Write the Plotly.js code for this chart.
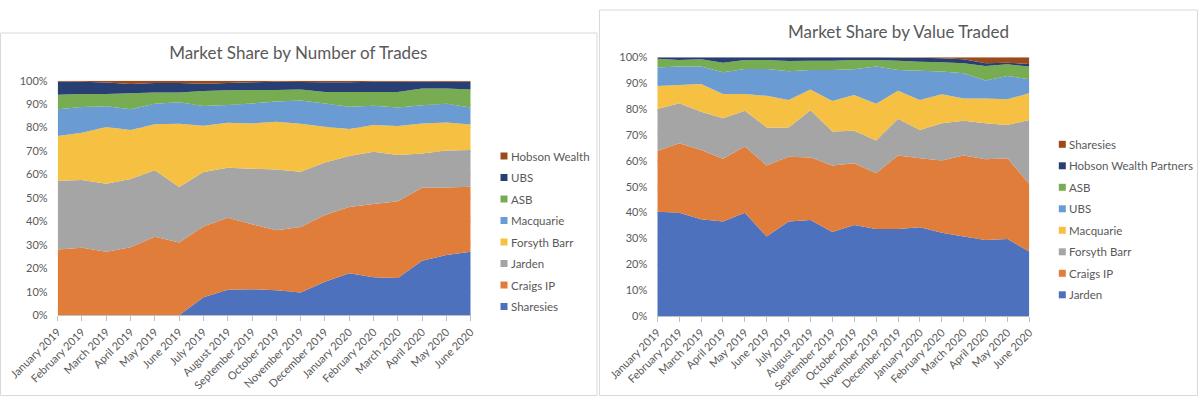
<!DOCTYPE html>
<html><head><meta charset="utf-8">
<script src="https://cdn.plot.ly/plotly-3.0.1.min.js"></script>
<style>html,body{margin:0;padding:0;background:#fff}#chart{width:1200px;height:397px}</style>
</head><body><div id="chart"></div><script>
// ---------- data ----------
const months = ["January 2019","February 2019","March 2019","April 2019","May 2019","June 2019","July 2019","August 2019","September 2019","October 2019","November 2019","December 2019","January 2020","February 2020","March 2020","April 2020","May 2020","June 2020"];

// Chart 1: Market Share by Number of Trades (bottom to top)
const tradesTitle = "Market Share by Number of Trades";
const tradesNames = ["Sharesies","Craigs IP","Jarden","Forsyth Barr","Macquarie","ASB","UBS","Hobson Wealth"];
const tradesSharesies = [0,0,0,0,0,0,7.7,10.9,11.1,10.7,9.7,14.3,17.9,16.2,15.9,23.3,25.7,27.1];
const tradesCraigs    = [28.1,28.8,27.1,29.0,33.5,31.0,30.1,30.7,27.7,25.5,27.9,28.5,28.3,31.2,32.7,31.1,28.8,27.7];
const tradesJarden    = [29.3,28.9,29.0,29.1,28.3,23.7,23.3,21.3,23.7,25.9,23.6,22.3,21.7,22.3,19.7,14.6,15.7,15.7];
const tradesForsyth   = [19.0,20.1,24.2,20.9,19.6,27.0,19.7,19.2,19.3,20.4,20.4,15.3,11.5,11.4,12.4,12.8,12.0,10.8];
const tradesMacquarie = [11.4,11.0,8.8,8.8,8.8,9.1,8.4,7.5,8.5,8.6,10.0,9.9,9.5,8.2,7.9,7.7,8.0,7.3];
const tradesASB       = [6.2,5.5,5.2,6.8,4.8,4.2,6.4,6.3,5.7,4.9,4.6,4.9,6.3,5.9,6.6,7.2,6.5,7.7];
const tradesUBS       = [5.7,5.3,4.9,4.0,4.0,4.0,3.1,3.1,3.3,3.5,3.2,4.1,4.1,4.3,4.3,3.0,2.9,3.4];
const tradesHobson    = [0.3,0.4,0.8,1.4,1.0,1.0,1.3,1.0,0.7,0.5,0.6,0.7,0.7,0.5,0.5,0.3,0.4,0.3];

// Chart 2: Market Share by Value Traded (bottom to top)
const valueTitle = "Market Share by Value Traded";
const valueNames = ["Jarden","Craigs IP","Forsyth Barr","Macquarie","UBS","ASB","Hobson Wealth Partners","Sharesies"];
const valueJarden    = [40.3,39.9,37.4,36.5,39.9,30.7,36.5,37.1,32.5,35.2,33.6,33.6,34.3,32.2,30.7,29.4,29.8,24.9];
const valueCraigs    = [23.5,26.9,26.8,24.3,25.6,27.5,25.1,24.2,25.7,23.8,21.6,28.4,26.7,27.9,31.3,31.2,31.2,26.1];
const valueForsyth   = [16.2,15.4,14.8,15.6,13.8,14.7,11.3,18.2,13.1,12.6,12.6,14.2,10.9,14.4,13.5,13.9,12.8,24.8];
const valueMacquarie = [8.9,7.1,10.7,9.4,6.5,12.2,10.6,8.1,11.8,13.8,14.2,10.9,11.6,11.2,8.6,9.6,10.0,10.3];
const valueUBS       = [7.2,7.1,6.7,8.4,9.7,10.4,11.1,7.5,12.0,10.0,14.4,8.0,11.3,8.8,9.7,6.9,9.0,5.4];
const valueASB       = [3.3,2.6,2.8,3.7,3.5,3.5,4.0,3.6,3.6,3.6,2.6,3.6,3.5,3.6,3.9,5.6,4.5,4.9];
const valueHobson    = [0.6,1.0,0.8,2.1,1.0,1.0,1.4,1.3,1.3,1.0,1.0,1.2,1.5,1.5,1.5,1.1,0.6,1.0];
const valueSharesies = [0,0,0,0,0,0,0,0,0,0,0,0.1,0.2,0.4,0.8,2.3,2.1,2.6];

const yTicks = [0,10,20,30,40,50,60,70,80,90,100];

// ---------- styles ----------
const C = {blue:"#4E71BE", orange:"#E07D3A", gray:"#A5A5A5", yellow:"#F6C142", lblue:"#6A9BD3", green:"#78AC53", navy:"#283F73", brown:"#9C4A1A"};
const tradesColors = [C.blue,C.orange,C.gray,C.yellow,C.lblue,C.green,C.navy,C.brown];
const valueColors  = [C.blue,C.orange,C.gray,C.yellow,C.lblue,C.green,C.navy,C.brown];
const W = 1200, H = 397;
const px = x => x / W, py = y => 1 - y / H;
const FONT = "Lato, 'Open Sans', sans-serif";
const TXT = "#595959";

const tradesData = [tradesSharesies,tradesCraigs,tradesJarden,tradesForsyth,tradesMacquarie,tradesASB,tradesUBS,tradesHobson];
const valueData  = [valueJarden,valueCraigs,valueForsyth,valueMacquarie,valueUBS,valueASB,valueHobson,valueSharesies];

const traces = [];
function addStack(names, data, colors, xa, ya, group) {
  names.forEach((n, i) => {
    traces.push({
      type: "scatter", x: months, y: data[i], name: n,
      xaxis: xa, yaxis: ya, stackgroup: group, groupnorm: i === 0 ? "percent" : undefined,
      mode: "none", fill: "tonexty", fillcolor: colors[i], line: {width: 0},
      showlegend: false, hoverinfo: "skip"
    });
  });
}
addStack(tradesNames, tradesData, tradesColors, "x", "y", "trades");
addStack(valueNames, valueData, valueColors, "x2", "y2", "value");

function xAxis(domain, anchor) {
  return {domain, anchor, type: "category", range: [0, months.length - 1],
    tickangle: -45, showgrid: false, showline: true, linecolor: "#BFBFBF", linewidth: 1,
    ticks: "outside", ticklen: 5, tickcolor: "#BFBFBF", zeroline: false,
    tickfont: {family: FONT, size: 11, color: TXT}, fixedrange: true};
}
function yAxis(domain, anchor) {
  return {domain, anchor, range: [0, 100], tickvals: yTicks, ticktext: yTicks.map(v => v + "%"),
    showgrid: true, gridcolor: "#D9D9D9", showline: false, zeroline: false, ticks: "",
    ticklabelstandoff: 9, tickfont: {family: FONT, size: 11, color: TXT}, fixedrange: true};
}

const shapes = [
  {type: "rect", xref: "paper", yref: "paper", x0: px(0.5), x1: px(597), y0: py(395.5), y1: py(33), line: {color: "#D9D9D9", width: 1}, fillcolor: "rgba(0,0,0,0)", layer: "below"},
  {type: "rect", xref: "paper", yref: "paper", x0: px(599.5), x1: px(1197.5), y0: py(395.5), y1: py(10), line: {color: "#D9D9D9", width: 1}, fillcolor: "rgba(0,0,0,0)", layer: "below"}
];
const annotations = [
  {text: valueTitle, xref: "paper", yref: "paper", x: px(898), y: py(31.7), xanchor: "center", yanchor: "middle", showarrow: false,
   font: {family: FONT, size: 17, color: TXT}}
];
// legends (top-to-bottom = reverse stacking order)
function addLegend(names, colors, mx, tx, y0, step) {
  const n = names.length;
  for (let k = 0; k < n; k++) {
    const i = n - 1 - k;
    const y = y0 + k * step;
    shapes.push({type: "rect", xref: "paper", yref: "paper", x0: px(mx - 3.5), x1: px(mx + 3.5), y0: py(y + 3.5), y1: py(y - 3.5), line: {width: 0}, fillcolor: colors[i]});
    annotations.push({text: names[i], xref: "paper", yref: "paper", x: px(tx), y: py(y), xanchor: "left", yanchor: "middle", showarrow: false,
      font: {family: FONT, size: 11.5, color: TXT}});
  }
}
addLegend(tradesNames, tradesColors, 504, 509, 156, 21.5);
addLegend(valueNames, valueColors, 1062.3, 1067.3, 144.3, 21.5);

const layout = {
  width: W, height: H, margin: {l: 0, r: 0, t: 0, b: 0},
  paper_bgcolor: "#fff", plot_bgcolor: "#fff", showlegend: false,
  title: {text: tradesTitle, x: px(298.3), xanchor: "center", xref: "paper", y: py(53.3), yref: "container", yanchor: "middle",
    font: {family: FONT, size: 17, color: TXT}},
  xaxis: xAxis([px(57.7), px(470.7)], "y"),
  yaxis: yAxis([py(315.3), py(80.7)], "x"),
  xaxis2: xAxis([px(657.3), px(1029.3)], "y2"),
  yaxis2: yAxis([py(316), py(57.3)], "x2"),
  shapes, annotations
};
Plotly.newPlot("chart", traces, layout, {displayModeBar: false, staticPlot: true});
</script></body></html>
